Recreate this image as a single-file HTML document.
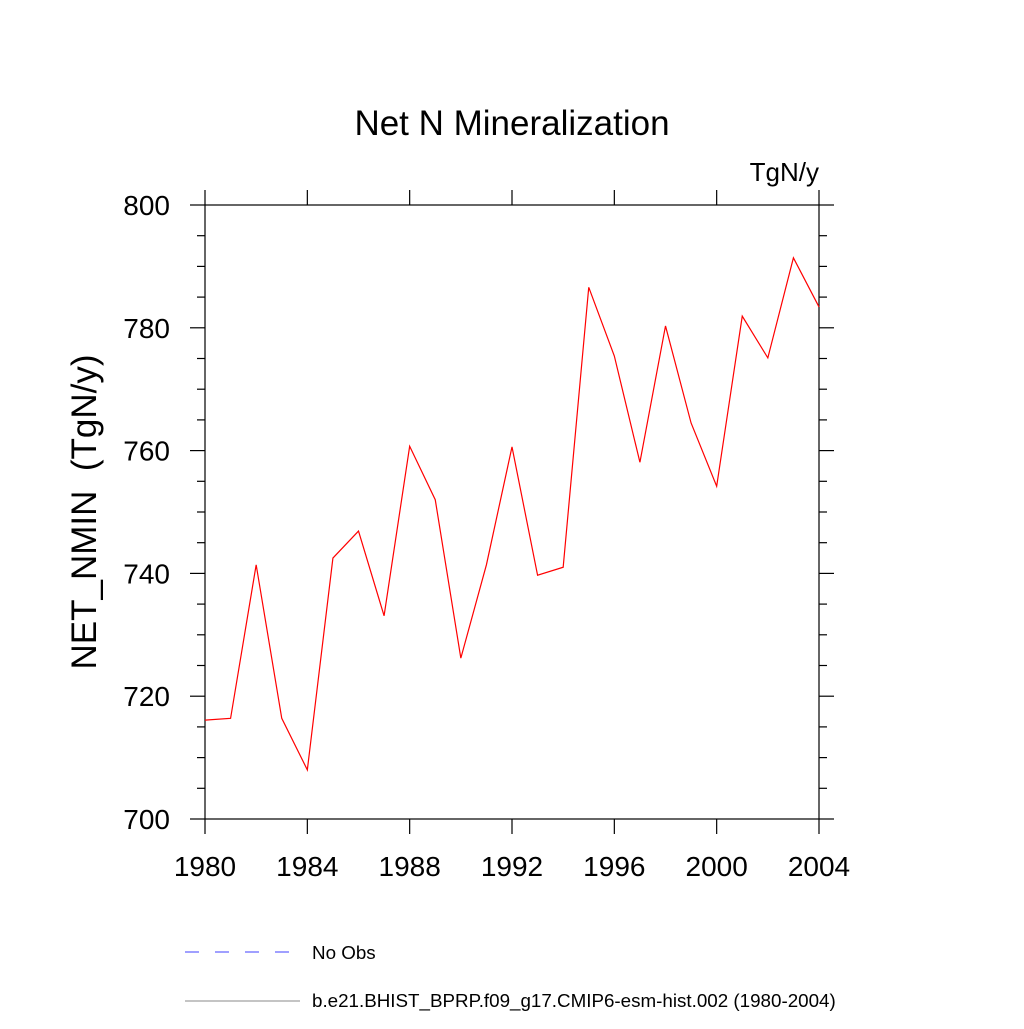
<!DOCTYPE html>
<html><head><meta charset="utf-8"><style>
body{margin:0;background:#fff}
svg text{font-family:"Liberation Sans",sans-serif;fill:#000}
</style></head><body>
<svg id="chart" width="1024" height="1024" xmlns="http://www.w3.org/2000/svg">
<text x="512" y="135" font-size="35" text-anchor="middle">Net N Mineralization</text>
<text x="819" y="181" font-size="26" text-anchor="end">TgN/y</text>
<text transform="translate(96,512) rotate(-90)" font-size="35" text-anchor="middle" xml:space="preserve" style="white-space:pre">NET_NMIN  (TgN/y)</text>
<g id="axes"></g>
<polyline id="series" fill="none" stroke="#ff0000" stroke-width="1.2"/>
<line x1="185" y1="952" x2="292" y2="952" stroke="#4040ff" stroke-width="1" stroke-dasharray="14,16"/>
<text x="312" y="959" font-size="18.8">No Obs</text>
<line x1="185" y1="1001" x2="300" y2="1001" stroke="#888" stroke-width="1"/>
<text x="312" y="1007" font-size="18.8">b.e21.BHIST_BPRP.f09_g17.CMIP6-esm-hist.002 (1980-2004)</text>
</svg>
<script>
const years=[1980,1981,1982,1983,1984,1985,1986,1987,1988,1989,1990,1991,1992,1993,1994,1995,1996,1997,1998,1999,2000,2001,2002,2003,2004];
const values=[716.1,716.4,741.4,716.4,708.0,742.5,746.9,733.1,760.7,752.0,726.2,741.4,760.6,739.7,741.0,786.6,775.4,758.1,780.3,764.5,754.2,781.9,775.1,791.4,783.4];
const xTicks=[1980,1984,1988,1992,1996,2000,2004];
const yTicks=[700,720,740,760,780,800];
const X0=205,X1=819,Y0=819,Y1=205;
const xs=v=>X0+(v-1980)/(2004-1980)*(X1-X0);
const ys=v=>Y0-(v-700)/(800-700)*(Y0-Y1);
const NS="http://www.w3.org/2000/svg";
const ax=document.getElementById('axes');
function ln(x1,y1,x2,y2,name){const l=document.createElementNS(NS,'line');
l.setAttribute('x1',x1);l.setAttribute('y1',y1);l.setAttribute('x2',x2);l.setAttribute('y2',y2);
l.setAttribute('stroke','#000');l.setAttribute('stroke-width','1.2');


ax.appendChild(l);}
function tx(x,y,s,anchor,name){const t=document.createElementNS(NS,'text');
t.setAttribute('x',x);t.setAttribute('y',y);t.setAttribute('font-size','28');t.setAttribute('text-anchor',anchor);t.textContent=s;


ax.appendChild(t);}
const r=document.createElementNS(NS,'rect');
r.setAttribute('x',X0);r.setAttribute('y',Y1);r.setAttribute('width',X1-X0);r.setAttribute('height',Y0-Y1);
r.setAttribute('fill','none');r.setAttribute('stroke','#000');r.setAttribute('stroke-width','1.2');


ax.appendChild(r);
xTicks.forEach(v=>{const x=xs(v);ln(x,Y0,x,Y0+15,'x-tick');ln(x,Y1,x,Y1-15,'x-tick-top');tx(x,Y0+57,v,'middle','x-tick-label');});
for(let v=700;v<=800;v+=5){const y=ys(v);const L=(v%20===0)?15:8;ln(X0-L,y,X0,y,'y-tick');ln(X1,y,X1+L,y,'y-tick-right');}
yTicks.forEach(v=>{tx(X0-35,ys(v)+10,v,'end','y-tick-label');});
document.getElementById('series').setAttribute('points',years.map((y,i)=>xs(y)+','+ys(values[i])).join(' '));
</script>
</body></html>
